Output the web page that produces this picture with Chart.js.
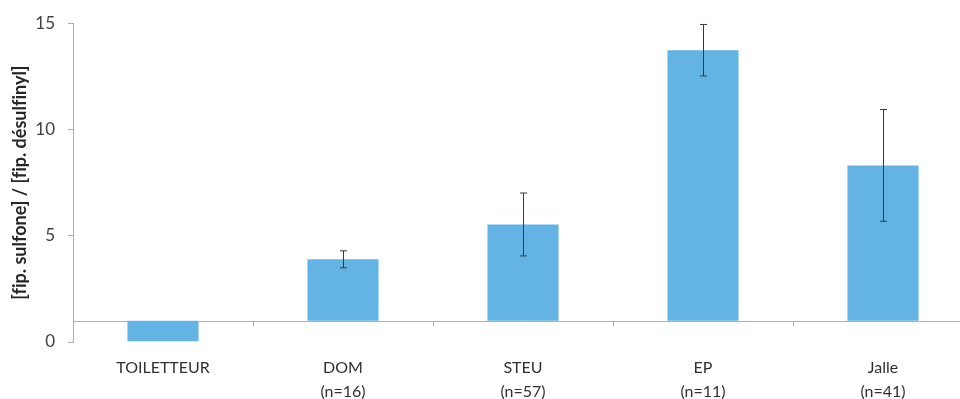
<!DOCTYPE html>
<html>
<head>
<meta charset="utf-8">
<script src="https://cdn.jsdelivr.net/npm/chart.js@4"></script>
<style>
  html, body { margin: 0; padding: 0; background: #fff; overflow: hidden; }
  #wrap { width: 980px; height: 399px; }
</style>
</head>
<body>
<div id="wrap"><canvas id="chart" width="980" height="399"></canvas></div>
<script>
const categories = ['TOILETTEUR', ['DOM', '(n=16)'], ['STEU', '(n=57)'], ['EP', '(n=11)'], ['Jalle', '(n=41)']];
const ratios = [0.03, 3.89, 5.53, 13.73, 8.31];
const errors = [0, 0.40, 1.48, 1.21, 2.63];
const yTicks = [0, 5, 10, 15];
const crossAt = 1; // horizontal axis crosses the value axis at 1

const axisColor = '#a9b0ba';

const crossAxis = {
    id: 'crossAxis',
    beforeDatasetsDraw(chart) {
        const ctx = chart.ctx;
        const x = chart.scales.x, y = chart.scales.y;
        const yy = Math.round(y.getPixelForValue(crossAt)) + 0.5;
        const step = x.getPixelForValue(1) - x.getPixelForValue(0);
        ctx.save();
        ctx.strokeStyle = axisColor;
        ctx.lineWidth = 1;
        ctx.beginPath();
        ctx.moveTo(chart.chartArea.left, yy);
        ctx.lineTo(chart.width, yy);
        for (let i = 0; i < categories.length; i++) {
            const xx = Math.round(x.getPixelForValue(i) + step / 2) + 0.5;
            ctx.moveTo(xx, yy);
            ctx.lineTo(xx, yy + 5);
        }
        ctx.stroke();
        ctx.restore();
    },
    afterDatasetsDraw(chart) {
        const ctx = chart.ctx;
        const x = chart.scales.x, y = chart.scales.y;
        ctx.save();
        ctx.strokeStyle = '#3a3a3a';
        ctx.lineWidth = 1;
        for (let i = 0; i < ratios.length; i++) {
            if (!errors[i]) continue;
            const xx = Math.round(x.getPixelForValue(i)) + 0.5;
            const top = y.getPixelForValue(ratios[i] + errors[i]);
            const bot = y.getPixelForValue(ratios[i] - errors[i]);
            ctx.beginPath();
            ctx.moveTo(xx, top);
            ctx.lineTo(xx, bot);
            ctx.moveTo(xx - 3.5, top);
            ctx.lineTo(xx + 3.5, top);
            ctx.moveTo(xx - 3.5, bot);
            ctx.lineTo(xx + 3.5, bot);
            ctx.stroke();
        }
        ctx.restore();
    }
};

const ctx = document.getElementById('chart').getContext('2d');
const myChart = new Chart(ctx, {
    type: 'bar',
    data: {
        labels: categories,
        datasets: [{
            data: ratios.map(v => [crossAt, v]),
            backgroundColor: '#63b4e5',
            borderWidth: 0,
            barPercentage: 0.79,
            categoryPercentage: 0.5
        }]
    },
    options: {
        responsive: false,
        animation: false,
        layout: { padding: { top: 23, right: 7, left: 0, bottom: 0 } },
        plugins: { legend: { display: false }, tooltip: { enabled: false } },
        scales: {
            x: {
                grid: { display: false },
                border: { display: false },
                ticks: {
                    color: '#303030',
                    font: { family: 'Lato', size: 16, lineHeight: 1.5 },
                    padding: 6,
                    maxRotation: 0,
                    autoSkip: false
                },
                afterFit(scale) { scale.height = 57; }
            },
            y: {
                min: 0,
                max: 15,
                afterBuildTicks(scale) { scale.ticks = yTicks.map(v => ({ value: v })); },
                grid: { drawOnChartArea: false, drawTicks: true, tickLength: 5, color: axisColor },
                border: { color: axisColor },
                ticks: {
                    color: '#404040',
                    font: { family: 'Lato', size: 17 },
                    padding: 13
                },
                title: {
                    display: true,
                    // zero-width non-joiner keeps "f" and "i" apart (no ligature)
                    text: '[f\u200Cip. sulfone] / [f\u200Cip. désulf\u200Cinyl]',
                    color: '#262626',
                    font: { family: 'Lato', size: 18, weight: 'bold' },
                    padding: { top: 9, bottom: 0 }
                },
                afterFit(scale) { scale.width = 73; }
            }
        }
    },
    plugins: [crossAxis]
});
</script>
</body>
</html>
